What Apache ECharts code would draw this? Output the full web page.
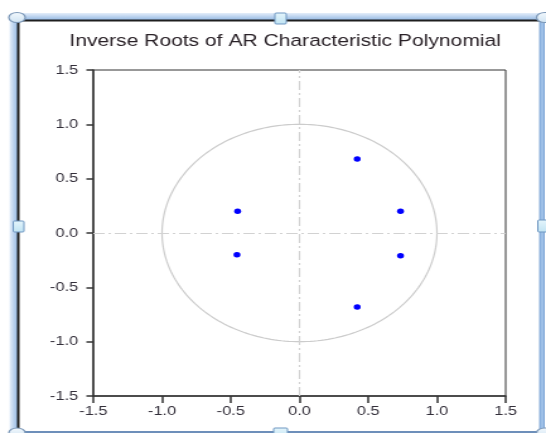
<!DOCTYPE html>
<html><head><meta charset="utf-8">
<script src="https://cdn.jsdelivr.net/npm/echarts@6/dist/echarts.min.js"></script>
<style>
html,body{margin:0;padding:0;background:#fff;overflow:hidden;}
#wrap{position:absolute;left:0;top:0;width:433px;height:433px;transform:scaleX(1.26097);transform-origin:0 0;}
#c{width:433px;height:433px;}
</style></head>
<body>
<div id="wrap"><div id="c"></div></div>
<script>
const chartTitle = 'Inverse Roots of AR Characteristic Polynomial';
const rootsReal = [0.42, -0.45, 0.735, -0.455, 0.735, 0.42];
const rootsImag = [0.68, 0.20, 0.20, -0.20, -0.21, -0.68];
const axisMin = -1.5, axisMax = 1.5, axisStep = 0.5;
const unitCircle = [[0, 0, 1]]; // centre x, centre y, radius

const font = '"Liberation Sans", Arial, sans-serif';
const pts = rootsReal.map((x, i) => [x, rootsImag[i]]);

const chart = echarts.init(document.getElementById('c'), null, {renderer: 'canvas'});

const blueGradH = new echarts.graphic.LinearGradient(0, 0, 1, 0, [{offset: 0, color: '#e4eefa'}, {offset: 1, color: '#95b9e3'}]);
const blueGradV = new echarts.graphic.LinearGradient(0, 0, 0, 1, [{offset: 0, color: '#e4eefa'}, {offset: 1, color: '#95b9e3'}]);
const handleFill = new echarts.graphic.LinearGradient(0, 0, 0, 1, [{offset: 0, color: '#f4f9fd'}, {offset: 1, color: '#cfe3f3'}]);
const sqFill = new echarts.graphic.LinearGradient(0, 0, 0, 1, [{offset: 0, color: '#e6f6fc'}, {offset: 1, color: '#bfe3f3'}]);

function ellHandle(cx, cy) {
  return {type: 'circle', x: cx, y: cy, scaleX: 1.3, shape: {cx: 0, cy: 0, r: 5},
    style: {fill: handleFill, stroke: '#7c98b8', lineWidth: 1}, z: 100};
}
function sqHandle(x, y, w, h) {
  return {type: 'rect', shape: {x: x, y: y, width: w, height: h, r: 1},
    style: {fill: sqFill, stroke: '#6f97c2', lineWidth: 1}, z: 100};
}

const option = {
  animation: false,
  backgroundColor: '#fff',
  title: {
    text: chartTitle, left: 50, top: 28,
    textStyle: {fontFamily: font, fontSize: 16.7, fontWeight: 'normal', color: '#2a2228'}
  },
  grid: {left: 74, top: 70, width: 327, height: 326, show: true, borderColor: '#333', borderWidth: 1, containLabel: false},
  xAxis: {
    type: 'value', min: axisMin, max: axisMax, interval: axisStep,
    axisLine: {show: true, onZero: false, lineStyle: {color: '#333', width: 1.5}},
    axisTick: {show: true, length: 7, lineStyle: {color: '#333', width: 1.5}},
    axisLabel: {margin: 9, fontFamily: font, fontSize: 13, color: '#332f3a', formatter: v => v.toFixed(1)},
    splitLine: {show: false}
  },
  yAxis: {
    type: 'value', min: axisMin, max: axisMax, interval: axisStep,
    axisLine: {show: true, onZero: false, lineStyle: {color: '#333', width: 1.5}},
    axisTick: {show: true, length: 5.5, lineStyle: {color: '#333', width: 1.5}},
    axisLabel: {margin: 12, fontFamily: font, fontSize: 13, color: '#332f3a', formatter: v => v.toFixed(1)},
    splitLine: {show: false}
  },
  series: [
    {
      type: 'custom', data: unitCircle, silent: true, clip: true, z: 1,
      renderItem: function (params, api) {
        const cx = api.value(0), cy = api.value(1), r = api.value(2);
        const points = [];
        for (let k = 0; k <= 240; k++) {
          const a = k / 240 * Math.PI * 2;
          points.push(api.coord([cx + r * Math.cos(a), cy + r * Math.sin(a)]));
        }
        return {type: 'polyline', shape: {points: points}, style: {stroke: '#cccccc', lineWidth: 1.2, fill: null}};
      }
    },
    {
      type: 'scatter', data: pts, symbol: 'circle', symbolSize: 5.5, z: 5,
      itemStyle: {color: '#0000ff', opacity: 1},
      markLine: {
        silent: true, symbol: 'none', label: {show: false}, animation: false,
        lineStyle: {color: '#d2d2d2', width: 1.2, type: [9, 3, 2, 3]},
        data: [{xAxis: 0}, {yAxis: 0}]
      }
    }
  ],
  graphic: [
    {type: 'rect', shape: {x: 7.5, y: 16, width: 6.5, height: 418}, style: {fill: blueGradH}, z: 50},
    {type: 'rect', shape: {x: 13.5, y: 13, width: 417, height: 7}, style: {fill: blueGradV}, z: 50},
    {type: 'line', shape: {x1: 14.5, y1: 19.5, x2: 14.5, y2: 433}, style: {stroke: '#1e1e1e', lineWidth: 2}, z: 51},
    {type: 'line', shape: {x1: 13.5, y1: 20.5, x2: 429, y2: 20.5}, style: {stroke: '#1e1e1e', lineWidth: 2}, z: 51},
    {type: 'rect', shape: {x: 428, y: 17, width: 3.5, height: 416}, style: {fill: '#9ec0e8', stroke: '#6d99cf', lineWidth: 0.8}, z: 50},
    {type: 'line', shape: {x1: 13.5, y1: 432, x2: 430, y2: 432}, style: {stroke: '#6d8fba', lineWidth: 2}, z: 50},
    ellHandle(13.5, 17.5), ellHandle(432, 17.5), ellHandle(13.5, 433), ellHandle(432, 433),
    sqHandle(218, 13, 9, 11), sqHandle(10.5, 221, 8.5, 11), sqHandle(426.5, 220, 8.5, 12), sqHandle(217, 428, 11, 10)
  ]
};
chart.setOption(option);
</script>
</body></html>
